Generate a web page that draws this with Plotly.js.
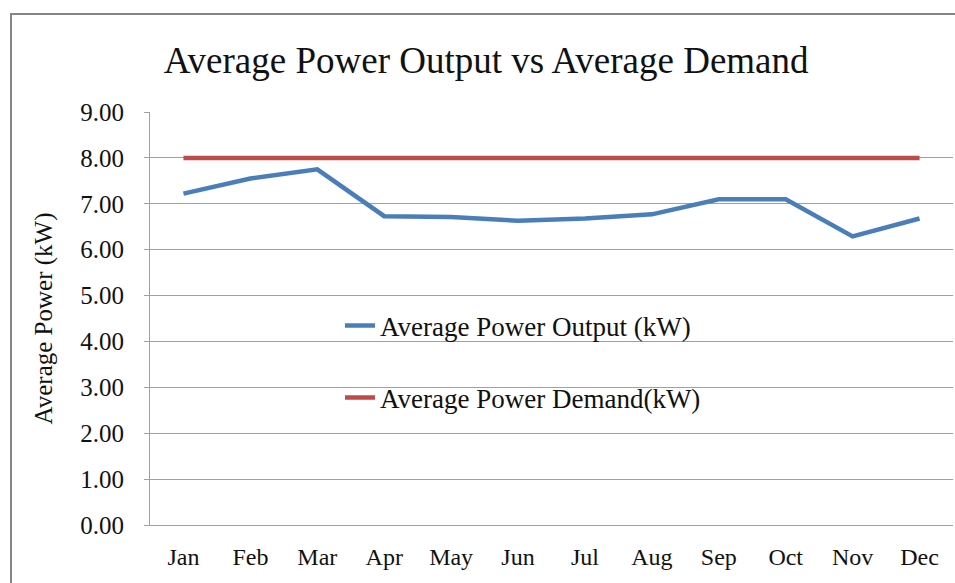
<!DOCTYPE html>
<html>
<head>
<meta charset="utf-8">
<script src="https://cdn.plot.ly/plotly-3.0.1.min.js"></script>
<style>html,body{margin:0;padding:0;background:#fff;}#chart{width:955px;height:583px;}</style>
</head>
<body>
<div id="chart"></div>
<script>
var months = ["Jan","Feb","Mar","Apr","May","Jun","Jul","Aug","Sep","Oct","Nov","Dec"];
var powerOutput = [7.22, 7.55, 7.75, 6.73, 6.71, 6.63, 6.68, 6.77, 7.10, 7.10, 6.29, 6.68];
var powerDemand = [8.00, 8.00, 8.00, 8.00, 8.00, 8.00, 8.00, 8.00, 8.00, 8.00, 8.00, 8.00];
var yTickVals = [0,1,2,3,4,5,6,7,8,9];
var yTickText = ["0.00","1.00","2.00","3.00","4.00","5.00","6.00","7.00","8.00","9.00"];

var FONT = "Liberation Serif";

var traces = [
  {x: months, y: powerOutput, type: "scatter", mode: "lines", name: "Average Power Output (kW)",
   line: {color: "#4a7ebb", width: 4.5}, legend: "legend"},
  {x: months, y: powerDemand, type: "scatter", mode: "lines", name: "Average Power Demand(kW)",
   line: {color: "#be4b48", width: 4.5}, legend: "legend2"}
];

var layout = {
  width: 955, height: 583,
  margin: {l: 150, r: 2, t: 112, b: 58},
  paper_bgcolor: "#ffffff", plot_bgcolor: "#ffffff",
  font: {family: FONT, color: "#111111", size: 22},
  title: {text: "Average Power Output vs Average Demand", font: {family: FONT, size: 37, color: "#111"},
          xref: "container", yref: "container", x: 0.509, xanchor: "center", y: 0.897, yanchor: "middle"},
  xaxis: {type: "category", range: [-0.5, 11.5], showgrid: false, showline: true, linecolor: "#a0a0a0", linewidth: 1,
          ticks: "", tickfont: {family: FONT, size: 24, color: "#111"}, ticklabelstandoff: 10, zeroline: false},
  yaxis: {range: [0, 9], tickvals: yTickVals, ticktext: yTickText, showgrid: true, gridcolor: "#a0a0a0", gridwidth: 1,
          showline: true, linecolor: "#a0a0a0", linewidth: 1, ticks: "outside", ticklen: 5, tickcolor: "#a0a0a0",
          tickfont: {family: FONT, size: 25, color: "#111"}, ticklabelstandoff: 15, zeroline: false,
          title: {text: "Average Power (kW)", font: {family: FONT, size: 25, color: "#111"}, standoff: 20}},
  showlegend: true,
  legend: {x: 0.2366, xanchor: "left", y: 0.482, yanchor: "middle", bgcolor: "rgba(0,0,0,0)",
           font: {family: FONT, size: 27, color: "#111"}},
  legend2: {x: 0.2366, xanchor: "left", y: 0.3075, yanchor: "middle", bgcolor: "rgba(0,0,0,0)",
           font: {family: FONT, size: 27, color: "#111"}},
  shapes: [
    {type: "rect", xref: "paper", yref: "paper", x0: -0.1731, x1: 1.02, y0: -0.2, y1: 1.2373,
     line: {color: "#858585", width: 2}, fillcolor: "rgba(0,0,0,0)", layer: "below"}
  ]
};

Plotly.newPlot("chart", traces, layout, {displayModeBar: false, staticPlot: true});
</script>
</body>
</html>
